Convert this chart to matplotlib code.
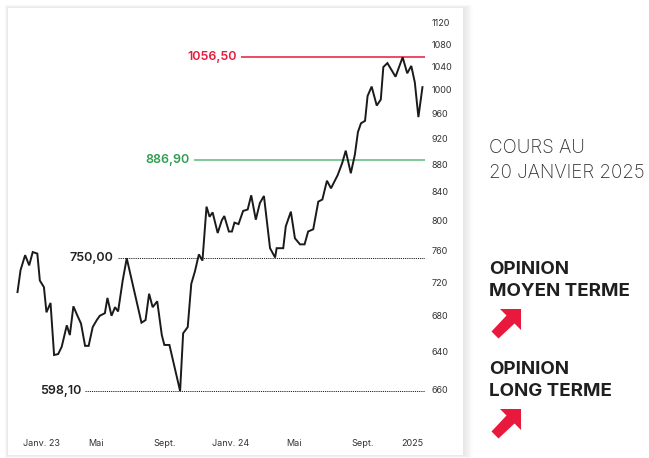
import matplotlib
matplotlib.use("Agg")
import matplotlib.pyplot as plt
from matplotlib.patches import Rectangle, Polygon
from matplotlib.ticker import FixedLocator, NullLocator

plt.rcParams['font.family'] = ['Inter', 'DejaVu Sans']

# ---- data: days since 2023-01-01, closing levels ----
days = [-47, -41, -32, -24, -17, -8, -3, 5, 10, 18, 25, 33, 40, 50, 56, 63, 71, 78, 86, 93,
        101, 109, 115, 125, 130, 138, 145, 151, 160, 168, 197, 205, 212, 219, 228, 237, 242,
        252, 273, 279, 288, 295, 302, 310, 317, 325, 331, 337, 347, 355, 360, 369, 375, 380,
        388, 397, 406, 413, 422, 430, 438, 450, 460, 463, 476, 481, 491, 499, 509, 518, 525,
        535, 545, 553, 562, 570, 583, 592, 599, 609, 617, 623, 629, 637, 642, 650, 660, 668,
        673, 681, 697, 711, 720, 728, 735, 742, 750]
prices = [708, 735, 754, 741, 758, 756, 722, 714, 684, 695, 636, 637, 645, 669, 658, 691, 680,
          671, 646, 646, 667, 675, 680, 683, 701, 680, 690, 685, 722, 750, 672, 675, 706, 690,
          697, 658, 647, 647, 598.1, 660, 667, 718, 733, 755, 747, 819, 805, 811, 783, 800, 806,
          785, 785, 797, 795, 813, 815, 835, 801, 824, 834, 763, 751, 763, 763, 792, 812, 776,
          768, 768, 785, 788, 826, 829, 856, 845, 864, 882, 901, 867, 895, 930, 944, 948, 989,
          1005, 973, 983, 1039, 1046, 1022, 1056.5, 1028, 1041, 1012, 954, 1004]

levels = [1056.50, 886.90, 750.00, 598.10]
level_labels = ["1056,50", "886,90", "750,00", "598,10"]
level_colors = ["#E8193C", "#5DBB7E", "#222222", "#222222"]
level_text_colors = ["#E8193C", "#2E9E50", "#222222", "#222222"]
level_styles = ["solid", "solid", "dotted", "dotted"]
level_start_days = [393, 300, 150, 86]   # where each level line begins (day units)

ytick_values = [600, 640, 680, 720, 760, 800, 840, 880, 920, 960, 1000, 1040, 1080, 1120]
ytick_labels = ["660", "640", "680", "720", "760", "800", "840", "880", "920", "960",
                "1000", "1040", "1080", "1120"]
xtick_days = [0, 107, 243, 373, 497, 633, 731]
xtick_labels = ["Janv. 23", "Mai", "Sept.", "Janv. 24", "Mai", "Sept.", "2025"]

W, H = 649, 458
fig = plt.figure(figsize=(W / 100, H / 100), dpi=100)
fig.patch.set_facecolor("white")

# card shadow (soft, mostly to the right) + card
for i in range(8):
    g = 8 - i
    fig.patches.append(Rectangle(((8 - g * 0.4) / W, (H - 455 - g * 0.4) / H),
                                 (455 + g * 1.6) / W, (447 + g * 0.8) / H,
                                 transform=fig.transFigure, facecolor="black",
                                 alpha=0.012, edgecolor="none", zorder=0))
fig.patches.append(Rectangle((8 / W, (H - 455) / H), 455 / W, 447 / H,
                             transform=fig.transFigure, facecolor="white",
                             edgecolor="none", zorder=1))

ax = fig.add_axes([8 / W, (H - 428) / H, (425 - 8) / W, (428 - 8) / H])
ax.set_zorder(2)
ax.patch.set_alpha(0)
ax.set_yscale("log")
ax.set_xlim(-65.7, 755)
ax.set_ylim(561.6, 1149)
for s in ax.spines.values():
    s.set_visible(False)

for lv, lab, c, tc, ls, sd in zip(levels, level_labels, level_colors, level_text_colors,
                                  level_styles, level_start_days):
    if ls == "solid":
        ax.plot([sd, 755], [lv, lv], color=c, lw=1.1, solid_capstyle="butt")
    else:
        ax.plot([sd, 755], [lv, lv], color=c, lw=0.7, ls=(0, (1.2, 1.0)))
    ax.text(sd - 8, lv, lab, color=tc, fontsize=9, fontweight="semibold",
            ha="right", va="center")

ax.plot(days, prices, color="#1a1a1a", lw=1.4, solid_joinstyle="miter")

ax.yaxis.tick_right()
ax.yaxis.set_major_locator(FixedLocator(ytick_values))
ax.yaxis.set_minor_locator(NullLocator())
ax.set_yticklabels(ytick_labels)
ax.tick_params(axis="y", length=0, pad=5, labelsize=6.5, labelcolor="#333333")
ax.set_xticks(xtick_days)
ax.set_xticklabels(xtick_labels)
ax.tick_params(axis="x", length=0, pad=8, labelsize=6.5, labelcolor="#333333")

# right-side texts
fig.text(489 / W, 1 - 148 / H, "COURS AU", fontsize=13.5, fontweight="light",
         color="#333333", va="center", ha="left")
fig.text(489 / W, 1 - 173 / H, "20 JANVIER 2025", fontsize=13.5, fontweight="light",
         color="#333333", va="center", ha="left")
fig.text(489 / W, 1 - 269 / H, "OPINION", fontsize=13.5, fontweight="bold",
         color="#1f1f1f", va="center", ha="left")
fig.text(489 / W, 1 - 291 / H, "MOYEN TERME", fontsize=13.5, fontweight="bold",
         color="#1f1f1f", va="center", ha="left")
fig.text(489 / W, 1 - 369 / H, "OPINION", fontsize=13.5, fontweight="bold",
         color="#1f1f1f", va="center", ha="left")
fig.text(489 / W, 1 - 391 / H, "LONG TERME", fontsize=13.5, fontweight="bold",
         color="#1f1f1f", va="center", ha="left")


def arrow(x0, y0):
    # arrow pointing up-right, bounding box ~30x29 px starting at (x0, y0) top-left
    pts = [(x0 + 9, y0), (x0 + 30, y0), (x0 + 30, y0 + 21), (x0 + 23.5, y0 + 14.5),
           (x0 + 7.5, y0 + 29.5), (x0 + 0.5, y0 + 22.5), (x0 + 15.5, y0 + 6.5)]
    fig.patches.append(Polygon([(px / W, 1 - py / H) for px, py in pts], closed=True,
                               transform=fig.transFigure, facecolor="#E8193C",
                               edgecolor="none", zorder=3))


arrow(491, 309)
arrow(491, 409)

fig.savefig("out.png", dpi=100, facecolor="white")
